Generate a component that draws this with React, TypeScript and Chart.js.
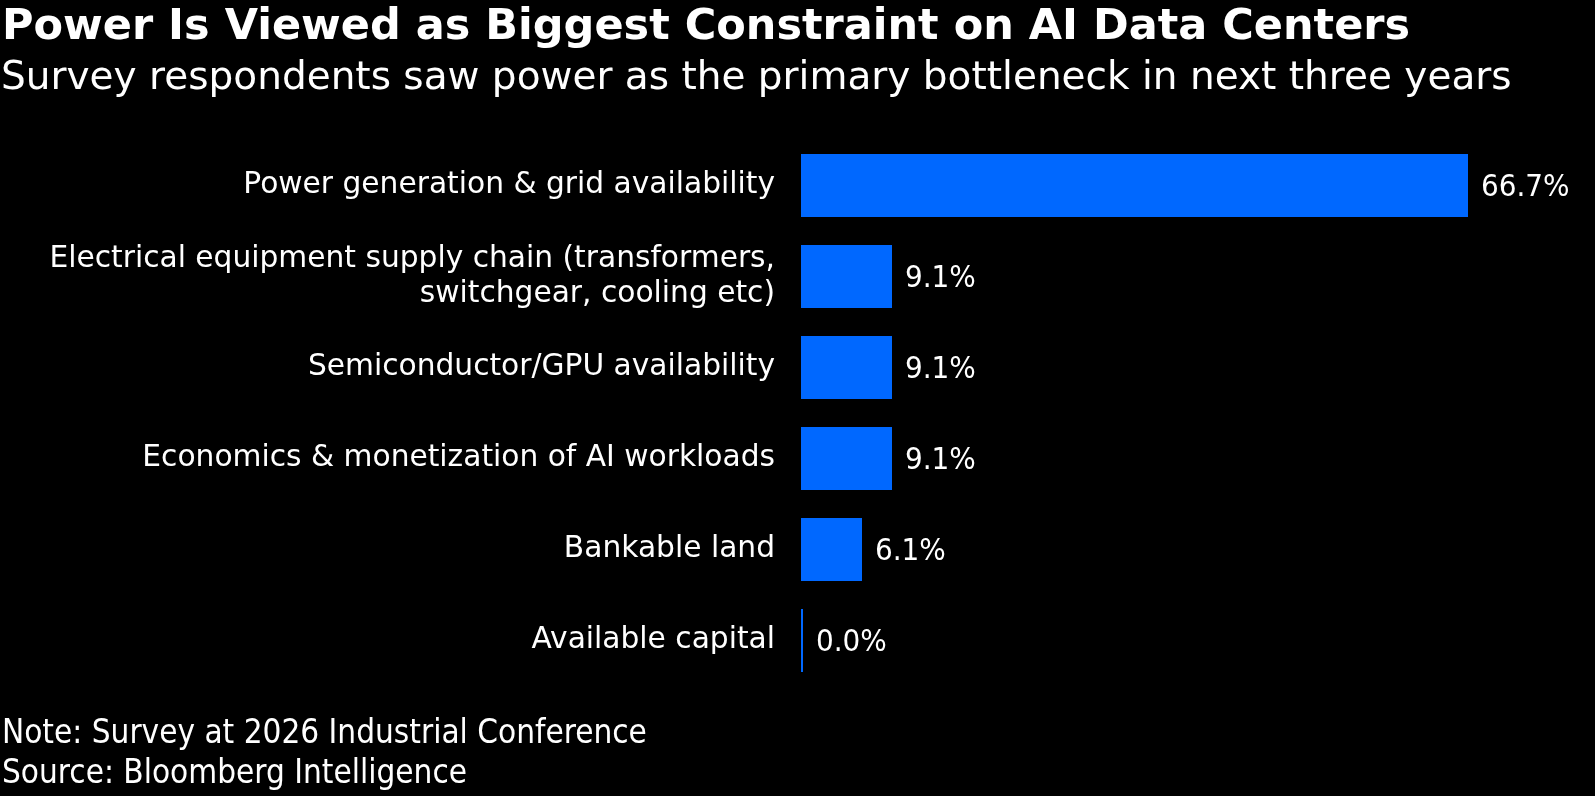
import React, { useEffect, useRef } from "react";
import { Chart, registerables } from "chart.js";

Chart.register(...registerables);

const categories: (string | string[])[] = [
  "Power generation & grid availability",
  ["Electrical equipment supply chain (transformers,", "switchgear, cooling etc)"],
  "Semiconductor/GPU availability",
  "Economics & monetization of AI workloads",
  "Bankable land",
  "Available capital",
];
const shares = [66.7, 9.1, 9.1, 9.1, 6.1, 0.0];

const titleText = "Power Is Viewed as Biggest Constraint on AI Data Centers";
const subtitleText = "Survey respondents saw power as the primary bottleneck in next three years";
const noteText = "Note: Survey at 2026 Industrial Conference";
const sourceText = "Source: Bloomberg Intelligence";

const W = 1595;
const H = 796;
const SANS = "'DejaVu Sans', sans-serif";
const CONDENSED = "'DejaVu Sans Condensed', 'DejaVu Sans', sans-serif";
const BLUE = "#0068ff";

const textPlugin = {
  id: "textOverlay",
  afterDatasetsDraw(chart: any) {
    const ctx = chart.ctx;
    ctx.save();
    ctx.fillStyle = "#ffffff";
    ctx.textAlign = "left";
    ctx.textBaseline = "alphabetic";

    // value labels at the end of each bar
    ctx.font = `31px ${CONDENSED}`;
    const meta = chart.getDatasetMeta(0);
    meta.data.forEach((bar: any, i: number) => {
      ctx.fillText(`${shares[i].toFixed(1)}%`, bar.x + 13, bar.y + 10);
    });

    // headline, subtitle and footer
    ctx.font = `bold 43px ${SANS}`;
    ctx.fillText(titleText, 2, 39);
    ctx.font = `39px ${SANS}`;
    ctx.fillText(subtitleText, 1, 89);
    ctx.font = `33px ${CONDENSED}`;
    ctx.fillText(noteText, 2, 743);
    ctx.fillText(sourceText, 2, 783);
    ctx.restore();
  },
};

export default function App() {
  const ref = useRef<HTMLCanvasElement | null>(null);

  useEffect(() => {
    document.body.style.margin = "0";
    document.body.style.background = "#000";
    const canvas = ref.current;
    if (!canvas) return;
    const chart = new Chart(canvas, {
      type: "bar",
      data: {
        labels: categories as any,
        datasets: [
          {
            data: shares,
            backgroundColor: BLUE,
            borderWidth: 0,
            barPercentage: 0.69,
            categoryPercentage: 1,
            minBarLength: 2,
          },
        ],
      },
      options: {
        indexAxis: "y",
        responsive: false,
        animation: false,
        devicePixelRatio: 1,
        layout: { padding: { top: 140, bottom: 110, left: 0, right: 44 } },
        plugins: {
          legend: { display: false },
          tooltip: { enabled: false },
          title: { display: false },
        },
        scales: {
          x: {
            display: false,
            min: 0,
            max: 75,
            grid: { display: false },
          },
          y: {
            grid: { display: false, drawTicks: false },
            border: { display: false },
            afterFit(scale: any) {
              scale.width = 801;
            },
            ticks: {
              color: "#ffffff",
              padding: 26,
              font: { family: SANS, size: 29.7, lineHeight: 1.18 },
            },
          },
        },
      },
      plugins: [textPlugin],
    });
    return () => chart.destroy();
  }, []);

  return (
    <div
      style={{
        position: "fixed",
        left: 0,
        top: 0,
        width: W,
        height: H,
        background: "#000",
      }}
    >
      <canvas ref={ref} width={W} height={H} style={{ display: "block" }} />
    </div>
  );
}
